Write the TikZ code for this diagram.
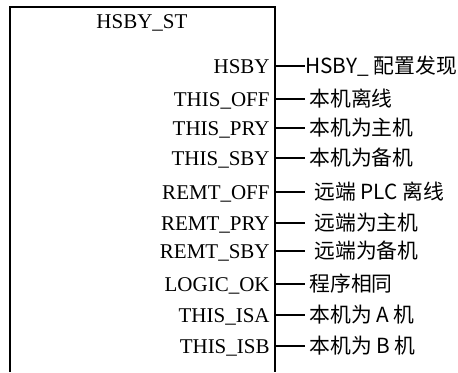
\documentclass[tikz,border=0pt]{standalone}
\usepackage{fontspec}
\setmainfont{Liberation Serif}
\newfontfamily\cjk{Noto Sans CJK SC}
\begin{document}
\begin{tikzpicture}[x=0.5pt, y=-0.5pt,
    port/.style={anchor=base east, inner sep=0pt, font=\fontsize{10.5}{12}\selectfont},
    desc/.style={anchor=base west, inner sep=0pt, font=\cjk\fontsize{10.4}{12}\selectfont},
    pin/.style={line width=0.8pt}]
  \useasboundingbox (0,0) rectangle (458,372);

  % 功能块外框，底边开口
  \draw[line width=1.1pt] (10,372) -- (10,7) -- (275,7) -- (275,372);
  \node[port, anchor=base] (title) at (142,28) {HSBY\_ST};

  % 输出引脚：纵坐标 / 引脚名 / 文字起点 / 说明
  \foreach [count=\i] \y/\lbl/\tx/\txt in {
      66/HSBY/305/{HSBY\_ 配置发现},
      99/THIS\_OFF/309/{本机离线},
      128/THIS\_PRY/309/{本机为主机},
      158/THIS\_SBY/309/{本机为备机},
      192/REMT\_OFF/314/{远端 PLC 离线},
      223/REMT\_PRY/314/{远端为主机},
      251/REMT\_SBY/314/{远端为备机},
      284/LOGIC\_OK/309/{程序相同},
      315/THIS\_ISA/309/{本机为 A 机},
      346/THIS\_ISB/309/{本机为 B 机}}
  {
    \node[port] (pin\i) at (270,\y+7) {\lbl};
    \coordinate (out\i) at (275,\y);
    \coordinate (end\i) at (305,\y);
    \draw[pin] (out\i) -- (end\i);
    \node[desc] (txt\i) at (\tx,\y+7) {\txt};
  }
\end{tikzpicture}
\end{document}
